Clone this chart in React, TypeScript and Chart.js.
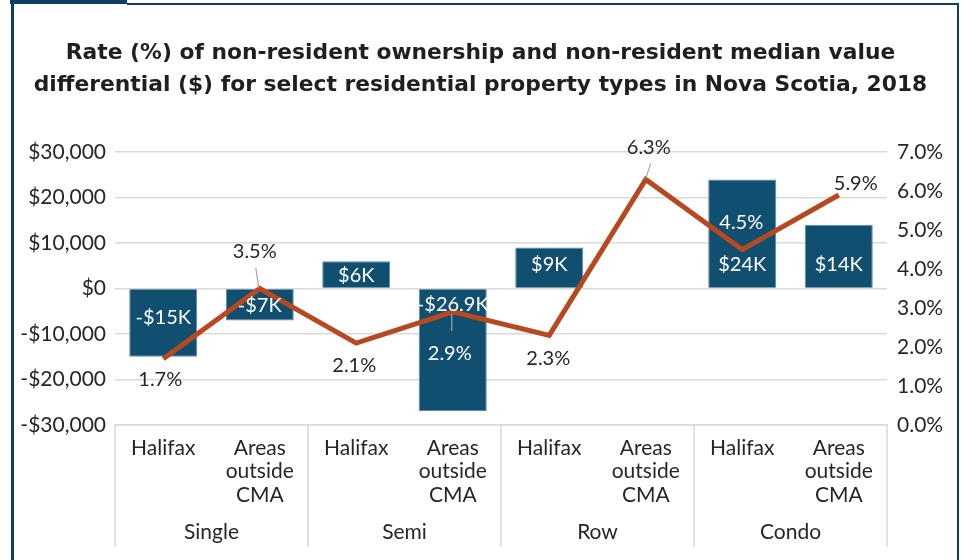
import React, { useEffect, useRef } from "react";
import { Chart, registerables } from "chart.js";

Chart.register(...registerables);

const FONT = "Lato, 'Open Sans', sans-serif";
const TITLE_FONT = "'DejaVu Sans', 'Open Sans', sans-serif";
const TEXT = "#262626";
const GRID = "#d9d9d9";
const BAR_COLOR = "#114F70";
const LINE_COLOR = "#B8481F";
const FRAME = "#0E3F62";
const TICK_SIZE = 21;
const LABEL_SIZE = 20;

const TITLE_LINES = [
  "Rate (%) of non-resident ownership and non-resident median value",
  "differential ($) for select residential property types in Nova Scotia, 2018",
];
const GROUPS = ["Single", "Semi", "Row", "Condo"];
const CATEGORIES = [
  ["Halifax"], ["Areas", "outside", "CMA"],
  ["Halifax"], ["Areas", "outside", "CMA"],
  ["Halifax"], ["Areas", "outside", "CMA"],
  ["Halifax"], ["Areas", "outside", "CMA"],
];
const VALUE_DIFFERENTIAL = [-15000, -7000, 6000, -26900, 9000, null, 24000, 14000];
const OWNERSHIP_RATE = [1.7, 3.5, 2.1, 2.9, 2.3, 6.3, 4.5, 5.9];

// label placement (style, relative offsets from the library's pixels)
const BAR_LABEL_DY = [29, 17, -13, 16, -24, 0, -24, -24];
const RATE_LABEL_STYLE = [
  { dx: -3, dy: 21, color: TEXT },
  { dx: -5, dy: -37, color: TEXT, leader: [-4, -21, -1, -1] },
  { dx: -2, dy: 22, color: TEXT },
  { dx: -3, dy: 42, color: "#ffffff", leader: [-1, 2, -1, 19] },
  { dx: -1, dy: 23, color: TEXT },
  { dx: 3, dy: -32, color: TEXT, leader: [5, -16, 0, -1] },
  { dx: -1, dy: -27, color: "#ffffff" },
  { dx: 17, dy: -11, color: TEXT },
];

function fmtK(v: number): string {
  const k = Math.round(Math.abs(v) / 100) / 10;
  return (v < 0 ? "-$" : "$") + String(k) + "K";
}
function fmtMoney(v: number): string {
  const s = Math.abs(v).toLocaleString("en-US");
  return (v < 0 ? "-$" : "$") + s;
}

const labelsPlugin = {
  id: "customLabels",
  afterDatasetsDraw(chart: any) {
    const ctx = chart.ctx;
    const yS = chart.scales.y;
    const base = yS.getPixelForValue(0);
    ctx.save();
    ctx.font = `${LABEL_SIZE}px ${FONT}`;
    ctx.textAlign = "center";
    ctx.textBaseline = "middle";
    const barMeta = chart.getDatasetMeta(0);
    barMeta.data.forEach((el: any, i: number) => {
      const v = VALUE_DIFFERENTIAL[i];
      if (v == null) return;
      ctx.fillStyle = "#ffffff";
      ctx.fillText(fmtK(v), el.x, base + BAR_LABEL_DY[i]);
    });
    const lineMeta = chart.getDatasetMeta(1);
    lineMeta.data.forEach((pt: any, i: number) => {
      const s: any = RATE_LABEL_STYLE[i];
      if (s.leader) {
        ctx.strokeStyle = "#a6a6a6";
        ctx.lineWidth = 1.2;
        ctx.beginPath();
        ctx.moveTo(pt.x + s.leader[0], pt.y + s.leader[1]);
        ctx.lineTo(pt.x + s.leader[2], pt.y + s.leader[3]);
        ctx.stroke();
      }
      ctx.fillStyle = s.color;
      ctx.fillText(OWNERSHIP_RATE[i].toFixed(1) + "%", pt.x + s.dx, pt.y + s.dy);
    });
    ctx.restore();
  },
};

const groupAxisPlugin = {
  id: "groupAxis",
  afterDraw(chart: any) {
    const ctx = chart.ctx;
    const x = chart.scales.x;
    const area = chart.chartArea;
    const bottom = area.bottom + 122;
    ctx.save();
    ctx.strokeStyle = GRID;
    ctx.lineWidth = 1.5;
    const edges: number[] = [];
    for (let g = 0; g <= GROUPS.length; g++) {
      let px: number;
      if (g === 0) px = area.left;
      else if (g === GROUPS.length) px = area.right;
      else px = (x.getPixelForValue(g * 2 - 1) + x.getPixelForValue(g * 2)) / 2;
      edges.push(px);
      ctx.beginPath();
      ctx.moveTo(px, area.bottom);
      ctx.lineTo(px, bottom);
      ctx.stroke();
    }
    ctx.fillStyle = TEXT;
    ctx.font = `${TICK_SIZE}px ${FONT}`;
    ctx.textAlign = "center";
    ctx.textBaseline = "middle";
    GROUPS.forEach((g, i) => {
      ctx.fillText(g, (edges[i] + edges[i + 1]) / 2, area.bottom + 107);
    });
    ctx.restore();
  },
};

export default function App() {
  const ref = useRef<HTMLCanvasElement | null>(null);
  useEffect(() => {
    const canvas = ref.current;
    if (!canvas) return;
    const chart = new Chart(canvas, {
      type: "bar",
      data: {
        labels: CATEGORIES as any,
        datasets: [
          {
            type: "bar",
            label: "Non-resident median value differential ($)",
            data: VALUE_DIFFERENTIAL as any,
            yAxisID: "y",
            backgroundColor: BAR_COLOR,
            borderColor: "#5f8aa6",
            borderWidth: 1,
            categoryPercentage: 1,
            barPercentage: 0.705,
            order: 2,
          },
          {
            type: "line",
            label: "Rate (%) of non-resident ownership",
            data: OWNERSHIP_RATE,
            yAxisID: "y1",
            borderColor: LINE_COLOR,
            borderWidth: 5,
            pointRadius: 0,
            tension: 0,
            order: 1,
          } as any,
        ],
      },
      options: {
        responsive: false,
        animation: false,
        devicePixelRatio: 1,
        layout: { padding: { left: 0, right: 0, top: 0, bottom: 0 } },
        plugins: {
          legend: { display: false },
          tooltip: { enabled: false },
          title: {
            display: true,
            text: TITLE_LINES,
            color: "#1f1f1f",
            font: { family: TITLE_FONT, size: 21.8, weight: "bold", lineHeight: 1.47 },
            padding: { top: 37, bottom: 51 },
          },
        },
        scales: {
          x: {
            type: "category",
            offset: true,
            grid: { display: false, drawTicks: false },
            border: { display: true, color: GRID, width: 1.5 },
            ticks: {
              color: TEXT,
              font: { family: FONT, size: TICK_SIZE, lineHeight: 1.1 },
              padding: 12,
              maxRotation: 0,
              autoSkip: false,
            },
            afterFit: (s: any) => { s.height = 135; },
          },
          y: {
            position: "left",
            min: -30000,
            max: 30000,
            grid: { color: GRID, lineWidth: 1.5, drawTicks: false },
            border: { display: false },
            ticks: {
              stepSize: 10000,
              color: TEXT,
              padding: 9,
              font: { family: FONT, size: TICK_SIZE },
              callback: (v: any) => fmtMoney(Number(v)),
            },
            afterFit: (s: any) => { s.width = 115; },
          },
          y1: {
            position: "right",
            min: 0,
            max: 7,
            grid: { display: false, drawTicks: false },
            border: { display: false },
            ticks: {
              stepSize: 1,
              color: TEXT,
              padding: 10,
              font: { family: FONT, size: TICK_SIZE },
              callback: (v: any) => Number(v).toFixed(1) + "%",
            },
            afterFit: (s: any) => { s.width = 74; },
          },
        },
      },
      plugins: [labelsPlugin, groupAxisPlugin],
    } as any);
    return () => chart.destroy();
  }, []);

  return (
    <div style={{ position: "fixed", left: 0, top: 0, width: 961, height: 560, background: "#fff", overflow: "hidden" }}>
      <canvas ref={ref} width={961} height={560} style={{ position: "absolute", left: 0, top: 0, width: 961, height: 560 }} />
      <div style={{ position: "absolute", left: 10, top: 0, width: 117, height: 4, background: FRAME }} />
      <div style={{ position: "absolute", left: 127, top: 3, width: 832, height: 1.5, background: FRAME }} />
      <div style={{ position: "absolute", left: 11, top: 0, width: 2.5, height: 560, background: FRAME }} />
      <div style={{ position: "absolute", left: 957, top: 3, width: 2, height: 557, background: FRAME }} />
    </div>
  );
}
